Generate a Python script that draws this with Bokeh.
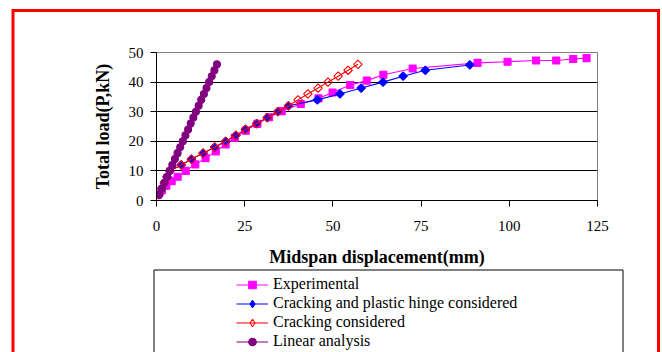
from bokeh.plotting import figure
from bokeh.models import Range1d, FixedTicker, Legend, LegendItem, GridBox, Column
from bokeh.embed import file_html
from bokeh.resources import INLINE

# ---- data ----
x_ticks = [0, 25, 50, 75, 100, 125]
y_ticks = [0, 10, 20, 30, 40, 50]

exp_x = [0.5, 1.5, 2.8, 4.3, 6.0, 8.3, 11.0, 13.9, 16.8, 19.6, 22.2, 25.3, 28.6, 31.9,
         35.5, 40.9, 45.9, 49.9, 54.9, 59.6, 64.3, 72.6, 91.0, 99.5, 107.6, 113.3, 118.1, 121.9]
exp_y = [2.0, 3.5, 5.0, 6.5, 8.0, 10.0, 12.2, 14.3, 16.6, 18.9, 21.2, 23.6, 25.9, 28.1,
         30.2, 32.6, 34.5, 36.5, 39.0, 40.5, 42.5, 44.6, 46.5, 46.9, 47.3, 47.3, 47.8, 48.1]

cph_x = [0.75, 1.5, 2.24, 2.99, 3.8, 7.0, 9.9, 13.2, 16.5, 19.6, 22.5, 25.2, 28.4, 31.4,
         34.4, 37.4, 45.6, 52.0, 58.0, 64.2, 69.9, 76.2, 88.8]
cph_y = [2, 4, 6, 8, 10, 12, 14, 16, 18, 20, 22, 24, 26, 28,
         30, 32, 34, 36, 38, 40, 42, 44, 45.8]

cr_x = [0.75, 1.5, 2.24, 2.99, 3.8, 7.0, 9.9, 13.2, 16.5, 19.6, 22.5, 25.2, 28.4, 31.4,
        34.4, 37.4, 40.1, 42.9, 45.8, 48.6, 51.5, 54.3, 57.1]
cr_y = [2, 4, 6, 8, 10, 12, 14, 16, 18, 20, 22, 24, 26, 28,
        30, 32, 34, 36, 38, 40, 42, 44, 46]

lin_x = [0.75, 1.49, 2.24, 2.99, 3.73, 4.48, 5.22, 5.97, 6.72, 7.46, 8.21, 8.96, 9.70,
         10.45, 11.19, 11.94, 12.69, 13.43, 14.18, 14.93, 15.67, 16.42, 17.16]
lin_y = [2, 4, 6, 8, 10, 12, 14, 16, 18, 20, 22, 24, 26, 28, 30, 32, 34, 36, 38, 40, 42, 44, 46]

labels = ["Experimental", "Cracking and plastic hinge considered",
          "Cracking considered", "Linear analysis"]

SERIF = "Liberation Serif"
W, H = 662, 352
DIAM = 0.785398

styles = [
    dict(color="#FF00FF", marker="square", angle=0.0, size=7, fill="#FF00FF",
         lmarker="square", lsize=6),
    dict(color="#0000FF", marker="square", angle=DIAM, size=6, fill="#0000FF",
         lmarker="diamond", lsize=8),
    dict(color="#FF0000", marker="square", angle=DIAM, size=6, fill=None,
         lmarker="diamond", lsize=8),
    dict(color="#800080", marker="circle", angle=0.0, size=7, fill="#800080",
         lmarker="circle", lsize=7),
]
series = [(exp_x, exp_y), (cph_x, cph_y), (cr_x, cr_y), (lin_x, lin_y)]

# ---------------- main chart ----------------
p = figure(width=W, height=H, output_backend="svg", toolbar_location=None,
           x_range=Range1d(0, 125), y_range=Range1d(0, 50),
           min_border_left=156, min_border_right=65, min_border_top=52, min_border_bottom=152)
p.background_fill_color = "white"
p.border_fill_color = "white"
p.outline_line_color = "#808080"
p.outline_line_width = 1

p.xgrid.visible = False
p.ygrid.ticker = FixedTicker(ticks=[10, 20, 30, 40])
p.ygrid.grid_line_color = "black"
p.ygrid.grid_line_width = 1

p.xaxis.ticker = FixedTicker(ticks=x_ticks)
p.yaxis.ticker = FixedTicker(ticks=y_ticks)
for ax in (p.xaxis[0], p.yaxis[0]):
    ax.axis_line_color = "black"
    ax.axis_line_width = 1
    ax.major_tick_line_color = "black"
    ax.major_tick_out = 6
    ax.major_tick_in = 0
    ax.minor_tick_line_color = None
    ax.major_label_text_font = SERIF
    ax.major_label_text_font_size = "15px"
    ax.major_label_text_color = "black"
    ax.axis_label_text_font = SERIF
    ax.axis_label_text_font_style = "bold"
    ax.axis_label_text_font_size = "18px"
    ax.axis_label_text_color = "black"
p.xaxis.axis_label = "Midspan displacement(mm)"
p.yaxis.axis_label = "Total load(P,kN)"
p.xaxis.major_label_standoff = 14
p.xaxis.axis_label_standoff = 13
p.yaxis.major_label_standoff = 7
p.yaxis.axis_label_standoff = 13

for (xs, ys), st in zip(series, styles):
    p.line(xs, ys, line_color=st["color"], line_width=1.1)
    p.scatter(xs, ys, marker=st["marker"], angle=st["angle"], size=st["size"],
              fill_color=st["fill"], line_color=st["color"], line_width=1.1)

# ---------------- overlay: page frame, legend box and legend ----------------
q = figure(width=W, height=H, output_backend="svg", toolbar_location=None,
           x_range=Range1d(0, W), y_range=Range1d(H, 0),
           x_axis_type=None, y_axis_type=None,
           min_border_left=0, min_border_right=0, min_border_top=0, min_border_bottom=0)
q.background_fill_alpha = 0
q.border_fill_alpha = 0
q.outline_line_color = None
q.grid.visible = False

# red page frame (open at the bottom)
q.line([12.5, 12.5, 658, 658], [H + 5, 10, 10, H + 5], line_color="#FF0000",
       line_width=3, line_join="miter")
# legend box (open at the bottom)
q.line([153.5, 153.5, 622.5, 622.5], [H + 5, 269.5, 269.5, H + 5], line_color="black",
       line_width=1, line_join="miter")

# legend proxies: same styling as the chart series, parked off-canvas
OFF = [-500, -490]
items = []
for lab, st in zip(labels, styles):
    rl = q.line(OFF, [-500, -500], line_color=st["color"], line_width=1.1)
    rm = q.scatter(OFF[:1], [-500], marker=st["lmarker"], size=st["lsize"],
                   fill_color=st["fill"], line_color=st["color"], line_width=1.1)
    items.append(LegendItem(label=lab, renderers=[rl, rm]))

legend = Legend(items=items, location=(236, 1.5), orientation="vertical",
                border_line_color=None, background_fill_alpha=0,
                padding=0, margin=0, spacing=0,
                glyph_width=32, glyph_height=19, label_height=19, label_standoff=5,
                label_text_font=SERIF, label_text_font_size="16px",
                label_text_color="black")
q.add_layout(legend, "center")

grid = GridBox(children=[(Column(children=[p]), 0, 0), (Column(children=[q]), 0, 0)])

open("out.html", "w").write(file_html(grid, INLINE))
